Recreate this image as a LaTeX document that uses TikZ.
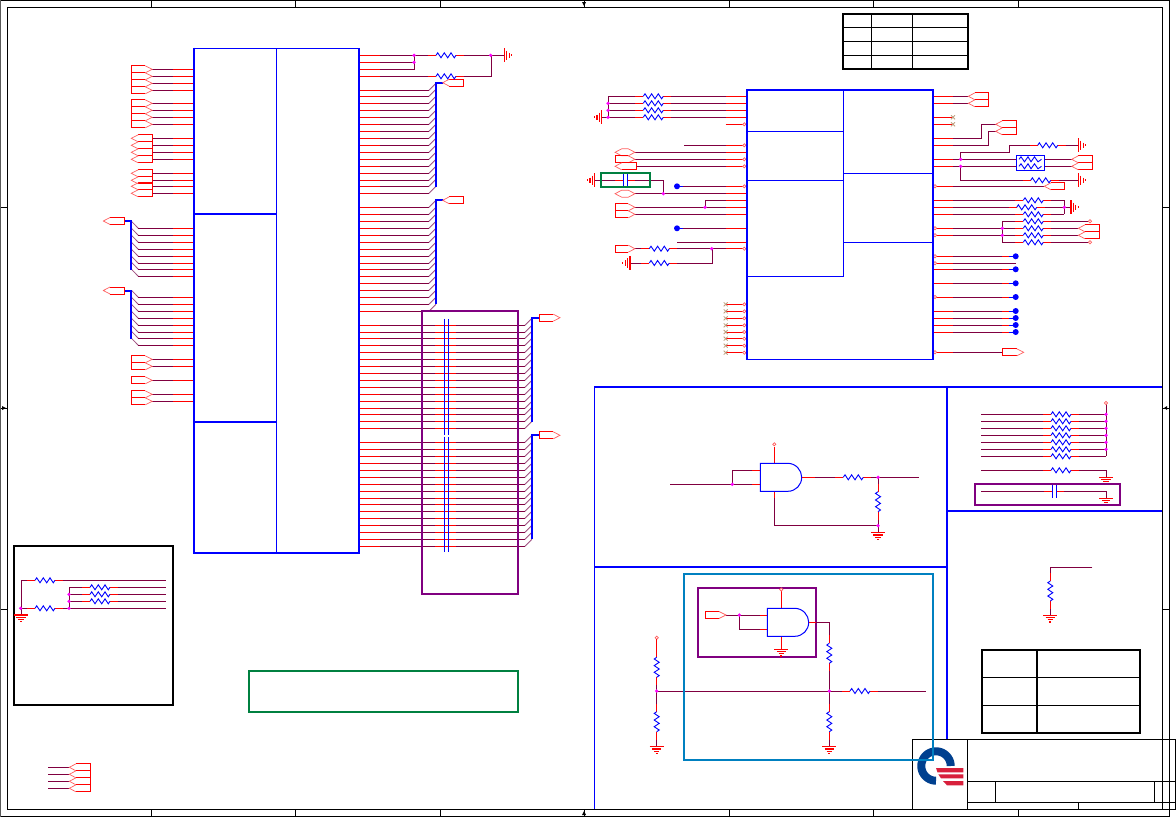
\documentclass[tikz,border=0pt]{standalone}
\definecolor{wirec}{HTML}{800040}
\definecolor{tipc}{HTML}{FF6060}
\definecolor{diagc}{HTML}{A05080}
\definecolor{dotc}{HTML}{FF00FF}
\definecolor{boxp}{HTML}{800080}
\definecolor{boxg}{HTML}{008040}
\definecolor{boxt}{HTML}{0080C0}
\definecolor{logob}{HTML}{00408F}
\definecolor{logor}{HTML}{D8203C}
\definecolor{xc}{HTML}{C0A080}
\tikzset{
  wire/.style={draw=wirec,line width=0.9pt},
  pinr/.style={draw=red,line width=0.9pt},
  gndl/.style={draw=red,line width=1.2pt},
  tipl/.style={draw=tipc,line width=0.7pt},
  bwire/.style={draw=blue,line width=0.9pt},
  busl/.style={draw=blue,line width=2pt},
  diag/.style={draw=diagc,line width=0.8pt},
  frameln/.style={draw=black,line width=1pt},
  partln/.style={draw=blue,line width=2pt}
}
% plain segments
\newcommand{\Wi}[4]{\draw[wire] (#1,#2)--(#3,#4);}
\newcommand{\Pn}[4]{\draw[pinr] (#1,#2)--(#3,#4);}
% horizontal resistor body at x..x+20 with red stubs
\newcommand{\Rh}[2]{%
  \draw[pinr] (#1-8,#2)--(#1,#2) (#1+20,#2)--(#1+28,#2);
  \draw[bwire] (#1,#2)--(#1+1.7,#2-2.5)--(#1+5,#2+2.5)--(#1+8.3,#2-2.5)--(#1+11.7,#2+2.5)--(#1+15,#2-2.5)--(#1+18.3,#2+2.5)--(#1+20,#2);}
% vertical resistor body at y..y+20
\newcommand{\Rv}[2]{%
  \draw[pinr] (#1,#2-8)--(#1,#2) (#1,#2+20)--(#1,#2+28);
  \draw[bwire] (#1,#2)--(#1-2.5,#2+1.7)--(#1+2.5,#2+5)--(#1-2.5,#2+8.3)--(#1+2.5,#2+11.7)--(#1-2.5,#2+15)--(#1+2.5,#2+18.3)--(#1,#2+20);}
% x1, x2, y, resistor x : wire with a resistor in it
\newcommand{\WR}[4]{\draw[wire] (#1,#3)--(#4-8,#3) (#4+28,#3)--(#2,#3); \Rh{#4}{#3}}
% off-page connector: body end, shoulder, tip, y
\newcommand{\Op}[4]{%
  \draw[pinr] (#2,#4-3.5)--(#1,#4-3.5)--(#1,#4+3.5)--(#2,#4+3.5);
  \draw[tipl] (#2,#4-3.5)--(#3,#4)--(#2,#4+3.5);}
% hexagon connector: left tip x, y
\newcommand{\Hx}[2]{\draw[tipl] (#1,#2)--(#1+6.7,#2-3.5)--(#1+13.3,#2-3.5)--(#1+20,#2)--(#1+13.3,#2+3.5)--(#1+6.7,#2+3.5)--cycle;}
% grounds
\newcommand{\GH}[3]{\draw[gndl] (#1,#2-7)--(#1,#2+7) (#1+#3*2.3,#2-4.7)--(#1+#3*2.3,#2+4.7) (#1+#3*4.8,#2-2.7)--(#1+#3*4.8,#2+2.7) (#1+#3*7.3,#2-1)--(#1+#3*7.3,#2+1);}
\newcommand{\GV}[2]{\draw[gndl] (#1-7,#2)--(#1+7,#2) (#1-4.7,#2+2.2)--(#1+4.7,#2+2.2) (#1-2.7,#2+4.4)--(#1+2.7,#2+4.4) (#1-1,#2+6.6)--(#1+1,#2+6.6);}
% marks
\newcommand{\Cir}[2]{\draw[tipl,fill=white] (#1,#2) circle[radius=1.6pt];}
\newcommand{\Jn}[2]{\fill[dotc] (#1,#2) circle[radius=1.8pt];}
\newcommand{\BD}[2]{\fill[blue] (#1,#2) circle[radius=3pt];}
\newcommand{\Xm}[2]{\draw[xc,line width=0.8pt] (#1-2,#2-2)--(#1+2,#2+2) (#1-2,#2+2)--(#1+2,#2-2);}
% and gate: top-left
\newcommand{\AndG}[2]{\draw[bwire,line width=1pt] (#1,#2)--(#1+27.4,#2) .. controls (#1+35.4,#2) and (#1+41.4,#2+6.7) .. (#1+41.4,#2+14) .. controls (#1+41.4,#2+21.7) and (#1+35.4,#2+28) .. (#1+27.4,#2+28)--(#1,#2+28)--cycle;}
\begin{document}
\begin{tikzpicture}[x=1pt,y=-1pt]
\useasboundingbox (0,0) rectangle (1176,817);
\fill[white] (0,0) rectangle (1176,817);
% ---------- main chip, left side
\foreach \y in {69.3,76.3,83.3,90.3,103.3,110.3,117.3,124.3,138.3,145.3,152.3,159.3,173.3,180.3,186.3,193.3,359.3,366.3,380.3,394.3,401.3}{
  \draw[wire] (152.3,\y)--(172.7,\y); \draw[pinr] (172.7,\y)--(194,\y);}
\foreach \y in {69.3,76.3,83.3,90.3,103.3,110.3,117.3,124.3,359.3,366.3,380.3,394.3,401.3}{\Op{131.3}{145.3}{152.3}{\y}}
\foreach \y in {138.3,145.3,152.3,159.3,173.3,180.3,186.3,193.3}{\Op{152.3}{138.3}{131.3}{\y}}
\foreach \y in {228.3,235.3,242.3,249.3,256.3,263.3,269.3,276.3,297.3,304.3,311.3,318.3,325.3,332.3,338.3,345.3}{
  \draw[diag] (131.5,\y-7)--(138.3,\y);
  \draw[wire] (138.3,\y)--(172.7,\y); \draw[pinr] (172.7,\y)--(194,\y);}
\draw[busl] (124.3,221)--(131,221)--(131,270);
\draw[busl] (124.3,290.5)--(131,290.5)--(131,339);
\Op{124.3}{110}{103.3}{221}
\Op{124.3}{110}{103.3}{290.5}
% ---------- main chip, right side
\foreach \y in {90.3,96.3,103.3,110.3,117.3,124.3,131.3,138.3,145.3,152.3,159.3,166.3,173.3,180.3,186.3,193.3,207.3,214.3,221.3,228.3,235.3,242.3,249.3,256.3,263.3,269.3,276.3,283.3,290.3,297.3,304.3,311.3}{
  \draw[pinr] (359,\y)--(380,\y); \draw[wire] (380,\y)--(429,\y); \draw[diag] (429,\y)--(436,\y-7);}
\draw[busl] (442.7,82.7)--(436,82.7)--(436,186.7);
\draw[busl] (442.7,200.3)--(436,200.3)--(436,304.3);
\Op{463.3}{449.3}{442.7}{82.7}
\Op{463.3}{449.3}{442.7}{200.3}
\foreach \y in {55.3,62.3,69.3,76.3}{\draw[pinr] (359,\y)--(380,\y);}
\Wi{380}{62.3}{414}{62.3}
\draw[wire] (380,69.3)--(414,69.3)--(414,55.3);
\WR{380}{490.7}{55.3}{436}
\Wi{490.7}{55.3}{504.3}{55.3}
\draw[wire] (380,76.3)--(428,76.3);
\Rh{436}{76.3}
\draw[wire] (464,76.3)--(491,76.3)--(491,55.3);
\GH{504.3}{55.3}{1}
\Jn{414}{55.3}\Jn{414}{62.3}\Jn{490.7}{55.3}
% bus groups through the capacitors
\foreach \y in {325.3,332.3,338.3,345.3,352.3,359.3,366.3,373.3,380.3,387.3,394.3,401.3,408.3,414.3,421.3,428.3,442.3,449.3,456.3,463.3,470.3,477.3,484.3,491.3,498.3,504.3,511.3,518.3,525.3,532.3,539.3,546.3}{
  \draw[pinr] (359,\y)--(380,\y); \draw[wire] (380,\y)--(435,\y); \draw[pinr] (435,\y)--(456,\y);
  \draw[wire] (456,\y)--(525,\y); \draw[diag] (525,\y)--(532,\y-7);}
\draw[bwire] (444.3,319)--(444.3,435) (448.3,319)--(448.3,435) (444.3,436.5)--(444.3,551.7) (448.3,436.5)--(448.3,551.7);
\draw[busl] (539.3,317.7)--(532,317.7)--(532,421.7);
\draw[busl] (539.3,435.3)--(532,435.3)--(532,539.3);
\Op{539.3}{553.3}{560}{317.7}
\Op{539.3}{553.3}{560}{435.3}
\draw[boxp,line width=2pt] (421.7,311) rectangle (518,594.3);
% main chip outline
\draw[blue,line width=1.2pt] (194,48.3)--(359,48.3)--(359,553);
\draw[blue,line width=2.5pt] (194,47.7)--(194,553);
\draw[blue,line width=2pt] (193,553)--(360,553);
\draw[blue,line width=0.9pt] (276,48)--(276,553);
\draw[blue,line width=2pt] (194,214)--(276,214);
\draw[blue,line width=1.5pt] (194,422)--(276,422);
% ---------- lower-left box
\draw[black,line width=2pt] (14,546) rectangle (173.3,704.7);
\draw[wire] (21.3,580.3)--(27,580.3); \Rh{35}{580.3} \Wi{63}{580.3}{165.7}{580.3}
\draw[wire] (21.3,608.3)--(27,608.3); \Rh{35}{608.3} \Wi{63}{608.3}{165.7}{608.3}
\foreach \y in {587.3,594.3,601.3}{\WR{69.3}{165.7}{\y}{90}}
\Wi{21.3}{580.3}{21.3}{615}
\Wi{69.3}{587.3}{69.3}{608.3}
\GV{21}{615}
\Jn{20.7}{608.3}\Jn{69}{594.3}\Jn{69}{601.3}\Jn{69}{608.3}
% bottom-left connectors
\foreach \y in {767.3,774.3,781.3,788.3}{\Wi{48.3}{\y}{69.3}{\y}\Op{90.3}{76}{69.3}{\y}}
% green note box
\draw[boxg,line width=2pt] (249,671) rectangle (518,712);
% ---------- right chip: left side
\foreach \y in {96.3,103.3,110.3,117.3}{
  \draw[pinr] (725.7,\y)--(747,\y);
  \draw[wire] (608.3,\y)--(635.3,\y) (671.3,\y)--(725.7,\y); \Rh{643.3}{\y}}
\Wi{608.3}{96.3}{608.3}{117.3}
\Wi{601.7}{117.3}{608.3}{117.3}
\GH{601.7}{117.3}{-1}
\Jn{608}{103.3}\Jn{608}{110.3}\Jn{608}{117.3}
\Pn{725.7}{124.3}{747}{124.3}\Cir{744.3}{124.3}
\Wi{684}{145.3}{725.7}{145.3}\Pn{725.7}{145.3}{747}{145.3}\Cir{744.3}{145.3}
\Wi{635}{152.3}{725.7}{152.3}\Pn{725.7}{152.3}{747}{152.3}\Hx{615}{152.3}
\Wi{635}{159.3}{725.7}{159.3}\Pn{725.7}{159.3}{747}{159.3}\Op{615}{628.3}{635}{159.3}\Cir{744.3}{159.3}
\Wi{636.7}{166.3}{725.7}{166.3}\Pn{725.7}{166.3}{747}{166.3}\Op{636.7}{621.7}{615}{166.3}\Cir{744.3}{166.3}
% cap in green box
\Wi{595}{180.3}{623.3}{180.3}
\draw[wire] (627.3,180.3)--(663.3,180.3)--(663.3,193.7);
\draw[pinr] (615,180.3)--(623.3,180.3) (627.3,180.3)--(635,180.3);
\draw[bwire] (623.3,174)--(623.3,186) (627.3,174)--(627.3,186);
\draw[boxg,line width=2pt] (600.7,172.7) rectangle (650.3,186.7);
\GH{594.7}{180.3}{-1}
\BD{677}{186.3}\draw[bwire] (677,186.3)--(683,186.3);
\Wi{683}{186.3}{725.7}{186.3}\Pn{725.7}{186.3}{747}{186.3}\Cir{744.3}{186.3}
\Wi{635}{193.7}{725.7}{193.7}\Pn{725.7}{193.7}{747}{193.7}\Hx{615}{193.7}\Jn{663.3}{193.7}
\draw[wire] (705,207.3)--(705,200.3)--(725.7,200.3);\Pn{725.7}{200.3}{747}{200.3}
\Wi{635}{207.3}{725.7}{207.3}\Pn{725.7}{207.3}{747}{207.3}\Op{615}{628.3}{635}{207.3}
\Wi{635}{214.3}{725.7}{214.3}\Pn{725.7}{214.3}{747}{214.3}\Op{615}{628.3}{635}{214.3}
\Jn{705}{207.3}
\BD{677}{228.3}\draw[bwire] (677,228.3)--(683,228.3);
\Wi{683}{228.3}{725.7}{228.3}\Pn{725.7}{228.3}{747}{228.3}
\Wi{677}{242.3}{725.7}{242.3}\Pn{725.7}{242.3}{747}{242.3}
\Wi{635}{248.7}{641.3}{248.7}\Rh{649.3}{248.7}\Wi{677.3}{248.7}{725.7}{248.7}\Pn{725.7}{248.7}{747}{248.7}
\Op{615}{628.3}{635}{248.7}\Cir{744.3}{248.7}
\Wi{630}{263}{641.3}{263}\Rh{649.3}{263}
\draw[wire] (677.3,263)--(712,263)--(712,248.7);
\Jn{711.7}{248.7}
\GH{630}{263}{-1}
\foreach \y in {304.3,311.3,318.3,325.3,332,338.7,345.7,352.7}{\Pn{725.7}{\y}{747}{\y}\Xm{725.7}{\y}\Cir{744.3}{\y}}
% ---------- right chip: right side
\foreach \y in {96.3,103.3,117.3,124.3,138.3,145.3,159.3,166.3,186.3,200.3,207.3,214.3,228.3,235.3,256.3,263.3,269.3,283.3,297,311,318,325,332,352.3}{\Pn{933}{\y}{953}{\y}}
\foreach \y in {96.3,103.3}{\Wi{953}{\y}{968.3}{\y}\Op{988.3}{975}{968.3}{\y}}
\Xm{953}{117.3}\Xm{953}{124.3}
\draw[wire] (953,138.3)--(981.7,138.3)--(981.7,124.3)--(995.7,124.3);
\draw[wire] (953,145.3)--(988.3,145.3)--(988.3,131.3)--(995.7,131.3);
\Op{1016.3}{1002.3}{995.7}{124.3}\Op{1016.3}{1002.3}{995.7}{131.3}
% resistor network
\foreach \y in {159.3,166.3}{
  \Wi{953}{\y}{1016.7}{\y}\Wi{1044.3}{\y}{1071.7}{\y}
  \draw[bwire] (1019,\y)--(1021,\y-2.5)--(1024.5,\y+2.5)--(1028,\y-2.5)--(1031,\y+2.5)--(1034.5,\y-2.5)--(1038,\y+2.5)--(1041.5,\y);
  \Op{1092.3}{1078.3}{1071.7}{\y}}
\draw[bwire] (1016.7,155.3) rectangle (1044.3,170);
\draw[wire] (960.7,159.3)--(960.7,152.3)--(1009.3,152.3)--(1009.3,145.3)--(1029.7,145.3);
\Rh{1037.7}{145.3}\Wi{1065.7}{145.3}{1078.3}{145.3}\GH{1078.3}{145.3}{1}
\draw[wire] (960.7,166.3)--(960.7,180.3)--(1022.7,180.3);
\Rh{1030.7}{180.3}\Wi{1058.7}{180.3}{1078.3}{180.3}\GH{1078.3}{180.3}{1}
\Jn{960.7}{159.3}\Jn{960.7}{166.3}
\Wi{953}{186.3}{1044.3}{186.3}\Op{1064.3}{1051}{1044.3}{186.3}\Cir{935}{186.3}
\WR{953}{1064.3}{200.3}{1023.3}
\WR{953}{1064.3}{207.3}{1016.7}
\WR{953}{1064.3}{214.3}{1023.3}
\Wi{1064.3}{200.3}{1064.3}{214.3}\Wi{1064.3}{207.3}{1071}{207.3}\Jn{1064.3}{207.3}\GH{1071}{207.3}{1}
\WR{1002.3}{1089}{221.3}{1023.3}\Cir{1090}{221.3}
\WR{953}{1078.3}{228.3}{1023.3}\Op{1099.3}{1085}{1078.3}{228.3}\Cir{935}{228.3}
\WR{953}{1078.3}{235.3}{1023.3}\Op{1099.3}{1085}{1078.3}{235.3}\Cir{935}{235.3}
\WR{1002.3}{1089}{242.3}{1023.3}\Cir{1090}{242.3}
\Wi{1002.3}{221.3}{1002.3}{242.3}\Jn{1002.3}{228.3}\Jn{1002.3}{235.3}
\foreach \y in {256.3,269.3,283.3,297,311,318,325,332}{
  \Wi{953}{\y}{1002.3}{\y}\Pn{1002.3}{\y}{1009}{\y}\draw[bwire] (1009,\y)--(1015.7,\y);\BD{1015.7}{\y}}
\Wi{953}{263.3}{1015.7}{263.3}
\Cir{935}{256.3}\Cir{935}{263.3}\Cir{935}{297}\Cir{935}{352.3}
\Wi{953}{352.3}{1002.3}{352.3}\Op{1002.3}{1016.7}{1023.7}{352.3}
% right chip outline
\draw[blue,line width=1.2pt] (747,359.3)--(933,359.3);
\draw[blue,line width=2pt] (746,90)--(934,90);
\draw[blue,line width=2.5pt] (747,90)--(747,360) (933,90)--(933,360);
\draw[blue,line width=0.9pt] (843,90)--(843,276.7) (747,131.3)--(843,131.3) (747,180.3)--(843,180.3) (747,276.7)--(843,276.7) (843,173.3)--(933,173.3) (843,242.3)--(933,242.3);
% top table
\draw[black,line width=1pt] (843,27.5)--(968,27.5) (843,41.3)--(968,41.3) (843,55.3)--(968,55.3) (871,14)--(871,69) (912,14)--(912,69);
\draw[black,line width=2pt] (843,14) rectangle (968.3,69);
% ---------- gate 1 section
\draw[wire] (670,484.3)--(752,484.3);
\draw[wire] (732.3,484.3)--(732.3,470.3)--(752,470.3);
\Pn{752}{484.3}{760.3}{484.3}\Pn{752}{470.3}{760.3}{470.3}
\Pn{774.3}{463.3}{774.3}{446.7}\Cir{774.3}{444.3}
\Pn{774.3}{491}{774.3}{498}
\draw[wire] (774.3,498)--(774.3,525.7)--(878,525.7);
\AndG{760.3}{463.3}
\Pn{801.7}{477.3}{815}{477.3}\Wi{815}{477.3}{835.3}{477.3}\Rh{843.3}{477.3}\Wi{871.3}{477.3}{919.3}{477.3}
\Wi{878}{477.3}{878}{483.7}\Rv{878}{491.7}\Wi{878}{519.7}{878}{532.7}\GV{878}{532.7}
\Jn{878}{477.3}\Jn{878}{525.7}\Jn{732.3}{484.3}
% ---------- gate 2 section
\draw[boxp,line width=2pt] (698,587.7) rectangle (816,657);
\draw[wire] (726,615)--(760,615);
\draw[wire] (739.3,615)--(739.3,629.3)--(760,629.3);
\Pn{760}{615}{767.3}{615}\Pn{760}{629.3}{767.3}{629.3}
\Op{705.3}{719}{726}{615}
\Pn{781.3}{608.3}{781.3}{590.7}\Cir{781.3}{589.5}
\Pn{781.3}{636.3}{781.3}{649.3}\GV{781.3}{649.3}
\AndG{767.3}{608.3}
\Pn{808.7}{622.3}{816}{622.3}
\draw[wire] (816,622.3)--(829.3,622.3)--(829.3,635.3);
\Rv{829.3}{643.3}\Wi{829.3}{671.3}{829.3}{703.7}\Rv{829.3}{711.7}\Wi{829.3}{739.7}{829.3}{746}\GV{829.3}{746.7}
\Jn{739.3}{615}
\Cir{656.7}{637.7}\Pn{656.7}{639}{656.7}{649.3}\Rv{656.7}{657.3}\Wi{656.7}{685.3}{656.7}{703.7}\Rv{656.7}{711.7}\Wi{656.7}{739.7}{656.7}{746}\GV{656.7}{746.7}
\Wi{656.7}{691}{842}{691}\Rh{850}{691}\Wi{878}{691}{926}{691}
\Jn{656.7}{691}\Jn{829.3}{691}
% ---------- right-hand blocks
\foreach \y in {414.3,421.3,428.3,435.3,442.3,449.3,456.3,470.3}{\WR{981}{1106}{\y}{1051}}
\Wi{1106}{404}{1106}{456.3}\Cir{1106}{403}
\foreach \y in {414.3,421.3,428.3,435.3,442.3,449.3}{\Jn{1106}{\y}}
\Wi{1106}{470.3}{1106}{477.3}\GV{1106}{477.3}
\draw[boxp,line width=2pt] (975,483.7) rectangle (1120.3,505);
\Wi{981}{491.3}{1044}{491.3}\Pn{1044}{491.3}{1052.3}{491.3}\Pn{1056.3}{491.3}{1064}{491.3}
\draw[wire] (1064,491.3)--(1106,491.3)--(1106,498.3);
\draw[bwire] (1052.3,484.7)--(1052.3,497.7) (1056.3,484.7)--(1056.3,497.7);
\draw[pinr,line width=1.5pt] (1099,498.3)--(1113,498.3);
\draw[pinr] (1102,500.5)--(1110,500.5) (1104,502.5)--(1108,502.5);
\draw[wire] (1092.3,567.3)--(1050.3,567.3)--(1050.3,573);
\Rv{1050.3}{581}\Wi{1050.3}{609}{1050.3}{615.3}\GV{1050.3}{615.3}
% lower right table
\draw[black,line width=1pt] (982,677.3)--(1140.3,677.3) (982,705.3)--(1140.3,705.3);
\draw[black,line width=2pt] (982,650) rectangle (1140.3,732.7) (1037,650)--(1037,732.7);
% ---------- partitions
\draw[partln] (594,387)--(1163,387) (947,387)--(947,740) (594,567)--(947,567) (947,511)--(1163,511);
\draw[blue,line width=1.5pt] (594.3,387)--(594.3,809);
% ---------- frame
\draw[frameln] (0.5,0.7)--(1169.3,0.7)--(1169.3,816.3)--(0.5,816.3);
\draw[draw=black!65,line width=1.5pt] (0.5,0)--(0.5,817);
\draw[frameln] (7.3,7.3) rectangle (1162.7,809.3);
\foreach \x in {151,295,440,584,729,873,1018}{\draw[frameln] (\x,0.7)--(\x,7.3) (\x,809.3)--(\x,816.3);}
\foreach \y in {207.5,408,609.5}{\draw[frameln] (0.5,\y)--(7.3,\y) (1162.7,\y)--(1169.3,\y);}
\fill[black] (582,2)--(586,2)--(584,6)--cycle (582,815)--(586,815)--(584,811)--cycle (2,406)--(2,410)--(6,408)--cycle (1167,406)--(1167,410)--(1164,408)--cycle;
% ---------- title block
\draw[frameln] (912.7,739.3) rectangle (1175.3,809.3);
\draw[frameln] (967.3,739.3)--(967.3,809.3) (967.3,781.3)--(1175.3,781.3) (967.3,802.3)--(1175.3,802.3) (995.3,781.3)--(995.3,802.3) (1154.7,781.3)--(1154.7,802.3) (1078.3,802.3)--(1078.3,809.3);
% logo
\draw[logob,line width=8pt] plot[domain=0:270,samples=50] ({936+14.7*cos(\x)},{766-14.7*sin(\x)});
\fill[logor] (936,768)--(963.3,768)--(963.3,772.3)--(937.5,772.3)--cycle (938.3,774.3)--(963.3,774.3)--(963.3,778.3)--(941,778.3)--cycle (943,781)--(963.3,781)--(963.3,785.3)--(947,785.3)--cycle;
% teal box
\draw[boxt,line width=2pt] (684,574.3) rectangle (933.3,760);
\end{tikzpicture}
\end{document}
